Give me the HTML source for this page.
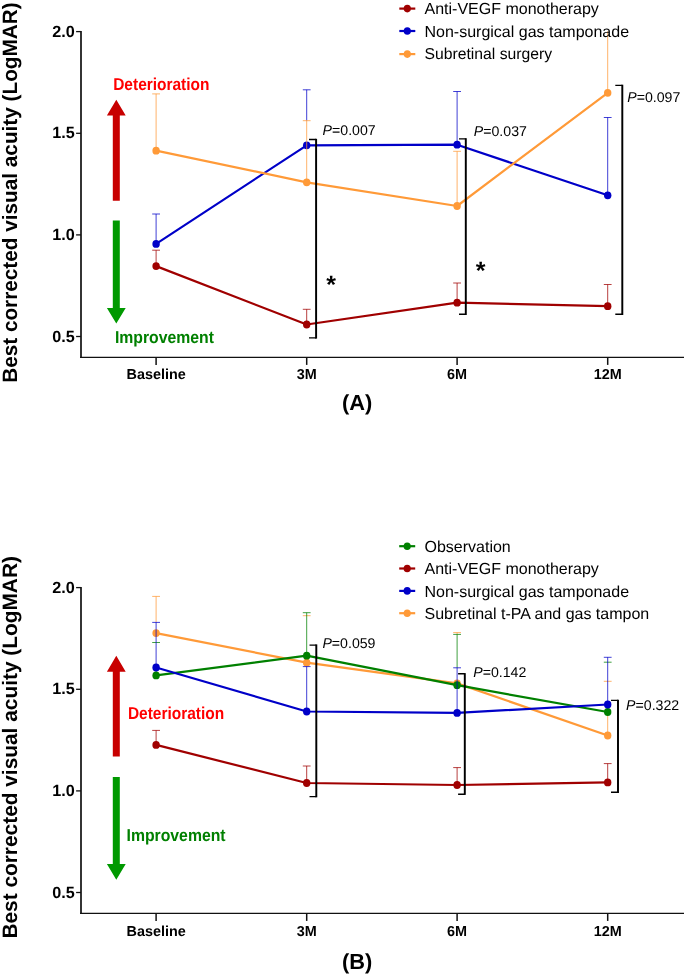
<!DOCTYPE html>
<html><head><meta charset="utf-8"><title>Figure</title>
<style>html,body{margin:0;padding:0;background:#fff}svg{display:block;will-change:transform}text{font-family:"Liberation Sans",sans-serif;fill:#000;text-rendering:geometricPrecision}</style>
</head><body>
<svg width="685" height="975" viewBox="0 0 685 975">
<rect width="685" height="975" fill="#fff"/>
<text transform="translate(16.5 192.6) rotate(-90)" text-anchor="middle" font-size="20.75" font-weight="bold">Best corrected visual acuity (LogMAR)</text>
<path d="M81 31.0V357.95" stroke="#111" stroke-width="1.7"/>
<path d="M80.15 357.3H684" stroke="#111" stroke-width="1.35"/>
<path d="M76.1 31.6H81" stroke="#111" stroke-width="1.3"/>
<path d="M76.1 133.3H81" stroke="#111" stroke-width="1.3"/>
<path d="M76.1 234.9H81" stroke="#111" stroke-width="1.3"/>
<path d="M76.1 336.5H81" stroke="#111" stroke-width="1.3"/>
<path d="M156.1 357.3V364.9" stroke="#111" stroke-width="1.5"/>
<path d="M306.7 357.3V364.9" stroke="#111" stroke-width="1.5"/>
<path d="M457.1 357.3V364.9" stroke="#111" stroke-width="1.5"/>
<path d="M607.7 357.3V364.9" stroke="#111" stroke-width="1.5"/>
<text x="74.8" y="36.8" text-anchor="end" font-size="16.2" font-weight="bold">2.0</text>
<text x="74.8" y="138.4" text-anchor="end" font-size="16.2" font-weight="bold">1.5</text>
<text x="74.8" y="240.0" text-anchor="end" font-size="16.2" font-weight="bold">1.0</text>
<text x="74.8" y="341.6" text-anchor="end" font-size="16.2" font-weight="bold">0.5</text>
<text x="156.1" y="379.4" text-anchor="middle" font-size="14.4" font-weight="bold">Baseline</text>
<text x="306.7" y="379.4" text-anchor="middle" font-size="14.4" font-weight="bold">3M</text>
<text x="457.1" y="379.4" text-anchor="middle" font-size="14.4" font-weight="bold">6M</text>
<text x="607.7" y="379.4" text-anchor="middle" font-size="14.4" font-weight="bold">12M</text>
<path d="M116.3 99.7L125.7 115.6H119.8V200.8H112.8V115.6H106.89999999999999Z" fill="#c80000"/>
<path d="M116.3 323.4L125.7 308H119.8V220.4H112.8V308H106.89999999999999Z" fill="#009900"/>
<text transform="translate(113.2 89.9) scale(0.90 1)" font-size="17.2" font-weight="bold" style="fill:#ff0000">Deterioration</text>
<text transform="translate(114.9 343.1) scale(0.918 1)" font-size="17.2" font-weight="bold" style="fill:#008000">Improvement</text>
<clipPath id="ca"><rect x="82" y="31.2" width="603" height="325"/></clipPath>
<g clip-path="url(#ca)">
<path d="M156.1 250.2V266.1M152.2 250.2H160.0" fill="none" stroke="#a00000" stroke-width="0.75"/>
<path d="M306.7 309.3V324.5M302.8 309.3H310.59999999999997" fill="none" stroke="#a00000" stroke-width="0.75"/>
<path d="M457.1 283.0V302.7M453.20000000000005 283H461.0" fill="none" stroke="#a00000" stroke-width="0.75"/>
<path d="M607.7 284.5V306.2M603.8000000000001 284.5H611.6" fill="none" stroke="#a00000" stroke-width="0.75"/>
<path d="M156.1 266.1L306.7 324.5L457.1 302.7L607.7 306.2" fill="none" stroke="#a00000" stroke-width="2.2" stroke-linejoin="round"/>
<ellipse cx="156.1" cy="266.1" rx="3.7" ry="3.9" fill="#a00000"/>
<ellipse cx="306.7" cy="324.5" rx="3.7" ry="3.9" fill="#a00000"/>
<ellipse cx="457.1" cy="302.7" rx="3.7" ry="3.9" fill="#a00000"/>
<ellipse cx="607.7" cy="306.2" rx="3.7" ry="3.9" fill="#a00000"/>
<path d="M156.1 214.0V243.9M152.2 214H160.0" fill="none" stroke="#0000c8" stroke-width="0.75"/>
<path d="M306.7 89.8V120.7M302.8 89.8H310.59999999999997" fill="none" stroke="#0000c8" stroke-width="0.75"/>
<path d="M457.1 91.5V144.7M453.20000000000005 91.5H461.0" fill="none" stroke="#0000c8" stroke-width="0.75"/>
<path d="M607.7 117.5V195.3M603.8000000000001 117.5H611.6" fill="none" stroke="#0000c8" stroke-width="0.75"/>
<path d="M156.1 243.9L306.7 145.3L457.1 144.7L607.7 195.3" fill="none" stroke="#0000c8" stroke-width="2.2" stroke-linejoin="round"/>
<ellipse cx="156.1" cy="243.9" rx="3.7" ry="3.9" fill="#0000c8"/>
<ellipse cx="306.7" cy="145.3" rx="3.7" ry="3.9" fill="#0000c8"/>
<ellipse cx="457.1" cy="144.7" rx="3.7" ry="3.9" fill="#0000c8"/>
<ellipse cx="607.7" cy="195.3" rx="3.7" ry="3.9" fill="#0000c8"/>
<path d="M156.1 93.9V150.7M152.2 93.9H160.0" fill="none" stroke="#ff9a38" stroke-width="0.75"/>
<path d="M306.7 120.7V182.3M302.8 120.7H310.59999999999997" fill="none" stroke="#ff9a38" stroke-width="0.75"/>
<path d="M457.1 151.3V206.0M453.20000000000005 151.3H461.0" fill="none" stroke="#ff9a38" stroke-width="0.75"/>
<path d="M607.7 20.0V92.8M603.8000000000001 20H611.6" fill="none" stroke="#ff9a38" stroke-width="0.75"/>
<path d="M156.1 150.7L306.7 182.3L457.1 206L607.7 92.8" fill="none" stroke="#ff9a38" stroke-width="2.2" stroke-linejoin="round"/>
<ellipse cx="156.1" cy="150.7" rx="3.7" ry="3.9" fill="#ff9a38"/>
<ellipse cx="306.7" cy="182.3" rx="3.7" ry="3.9" fill="#ff9a38"/>
<ellipse cx="457.1" cy="206" rx="3.7" ry="3.9" fill="#ff9a38"/>
<ellipse cx="607.7" cy="92.8" rx="3.7" ry="3.9" fill="#ff9a38"/>
</g>
<path d="M316.1 138.8V338.59999999999997" stroke="#000" stroke-width="1.95"/>
<path d="M309 139.5H316.1M309 337.9H316.1" stroke="#000" stroke-width="1.4"/>
<path d="M465.8 138.20000000000002V315.0" stroke="#000" stroke-width="1.95"/>
<path d="M459 138.9H465.8M459 314.3H465.8" stroke="#000" stroke-width="1.4"/>
<path d="M622.3 84.7V315.0" stroke="#000" stroke-width="1.95"/>
<path d="M615.3 85.4H622.3M615.3 314.3H622.3" stroke="#000" stroke-width="1.4"/>
<text x="322.6" y="134.9" font-size="14.15"><tspan font-style="italic">P</tspan>=0.007</text>
<text x="473.8" y="135.9" font-size="14.15"><tspan font-style="italic">P</tspan>=0.037</text>
<text x="627.2" y="102.4" font-size="14.15"><tspan font-style="italic">P</tspan>=0.097</text>
<text x="331.2" y="292.6" text-anchor="middle" font-size="25" font-weight="bold">*</text>
<text x="480.7" y="278.7" text-anchor="middle" font-size="25" font-weight="bold">*</text>
<path d="M399.3 8.6H415.3" stroke="#a00000" stroke-width="2.2"/>
<ellipse cx="407.3" cy="8.6" rx="3.6" ry="3.8" fill="#a00000"/>
<text x="424.5" y="14.2" font-size="16">Anti-VEGF monotherapy</text>
<path d="M399.3 31.0H415.3" stroke="#0000c8" stroke-width="2.2"/>
<ellipse cx="407.3" cy="31.0" rx="3.6" ry="3.8" fill="#0000c8"/>
<text x="424.5" y="36.6" font-size="16">Non-surgical gas tamponade</text>
<path d="M399.3 54.1H415.3" stroke="#ff9a38" stroke-width="2.2"/>
<ellipse cx="407.3" cy="54.1" rx="3.6" ry="3.8" fill="#ff9a38"/>
<text x="424.5" y="59.1" font-size="15.72">Subretinal surgery</text>
<text x="357.2" y="409.6" text-anchor="middle" font-size="21.8" font-weight="bold">(A)</text>
<text transform="translate(16.5 747.35) rotate(-90)" text-anchor="middle" font-size="20.86" font-weight="bold">Best corrected visual acuity (LogMAR)</text>
<path d="M81 587.0V913.95" stroke="#111" stroke-width="1.7"/>
<path d="M80.15 913.3H684" stroke="#111" stroke-width="1.35"/>
<path d="M76.1 587.6H81" stroke="#111" stroke-width="1.3"/>
<path d="M76.1 689.3H81" stroke="#111" stroke-width="1.3"/>
<path d="M76.1 790.9H81" stroke="#111" stroke-width="1.3"/>
<path d="M76.1 892.5H81" stroke="#111" stroke-width="1.3"/>
<path d="M156.1 913.3V920.9" stroke="#111" stroke-width="1.5"/>
<path d="M306.7 913.3V920.9" stroke="#111" stroke-width="1.5"/>
<path d="M457.1 913.3V920.9" stroke="#111" stroke-width="1.5"/>
<path d="M607.7 913.3V920.9" stroke="#111" stroke-width="1.5"/>
<text x="74.8" y="592.8000000000001" text-anchor="end" font-size="16.2" font-weight="bold">2.0</text>
<text x="74.8" y="694.4" text-anchor="end" font-size="16.2" font-weight="bold">1.5</text>
<text x="74.8" y="796.0" text-anchor="end" font-size="16.2" font-weight="bold">1.0</text>
<text x="74.8" y="897.6" text-anchor="end" font-size="16.2" font-weight="bold">0.5</text>
<text x="156.1" y="936.0" text-anchor="middle" font-size="14.4" font-weight="bold">Baseline</text>
<text x="306.7" y="936.0" text-anchor="middle" font-size="14.4" font-weight="bold">3M</text>
<text x="457.1" y="936.0" text-anchor="middle" font-size="14.4" font-weight="bold">6M</text>
<text x="607.7" y="936.0" text-anchor="middle" font-size="14.4" font-weight="bold">12M</text>
<path d="M116.3 655.8L125.7 671.7H119.8V756.5H112.8V671.7H106.89999999999999Z" fill="#c80000"/>
<path d="M116.3 879.7L125.7 864.1H119.8V777.1H112.8V864.1H106.89999999999999Z" fill="#009900"/>
<text transform="translate(127.9 719.2) scale(0.90 1)" font-size="17.2" font-weight="bold" style="fill:#ff0000">Deterioration</text>
<text transform="translate(126.5 840.9) scale(0.918 1)" font-size="17.2" font-weight="bold" style="fill:#008000">Improvement</text>
<path d="M156.1 596.4V622.4M152.2 596.4H160.0" fill="none" stroke="#ff9a38" stroke-width="0.75"/>
<path d="M306.7 655.7V662.7M302.8 615.7H310.59999999999997" fill="none" stroke="#ff9a38" stroke-width="0.75"/>
<path d="M457.1 632.6V634.4M453.20000000000005 632.6H461.0" fill="none" stroke="#ff9a38" stroke-width="0.75"/>
<path d="M607.7 712.0V735.5M603.8000000000001 681.3H611.6" fill="none" stroke="#ff9a38" stroke-width="0.75"/>
<path d="M156.1 633.1L306.7 662.7L457.1 683.4L607.7 735.5" fill="none" stroke="#ff9a38" stroke-width="2.2" stroke-linejoin="round"/>
<ellipse cx="156.1" cy="633.1" rx="3.7" ry="3.9" fill="#ff9a38"/>
<ellipse cx="306.7" cy="662.7" rx="3.7" ry="3.9" fill="#ff9a38"/>
<ellipse cx="457.1" cy="683.4" rx="3.7" ry="3.9" fill="#ff9a38"/>
<ellipse cx="607.7" cy="735.5" rx="3.7" ry="3.9" fill="#ff9a38"/>
<path d="M156.1 730.4V744.9M152.2 730.4H160.0" fill="none" stroke="#a00000" stroke-width="0.75"/>
<path d="M306.7 766.0V783.0M302.8 766H310.59999999999997" fill="none" stroke="#a00000" stroke-width="0.75"/>
<path d="M457.1 767.6V785.0M453.20000000000005 767.6H461.0" fill="none" stroke="#a00000" stroke-width="0.75"/>
<path d="M607.7 763.6V782.4M603.8000000000001 763.6H611.6" fill="none" stroke="#a00000" stroke-width="0.75"/>
<path d="M156.1 744.9L306.7 783L457.1 785L607.7 782.4" fill="none" stroke="#a00000" stroke-width="2.2" stroke-linejoin="round"/>
<ellipse cx="156.1" cy="744.9" rx="3.7" ry="3.9" fill="#a00000"/>
<ellipse cx="306.7" cy="783" rx="3.7" ry="3.9" fill="#a00000"/>
<ellipse cx="457.1" cy="785" rx="3.7" ry="3.9" fill="#a00000"/>
<ellipse cx="607.7" cy="782.4" rx="3.7" ry="3.9" fill="#a00000"/>
<path d="M156.1 667.5V675.4M152.2 642.5H160.0" fill="none" stroke="#008000" stroke-width="0.75"/>
<path d="M306.7 612.7V655.7M302.8 612.7H310.59999999999997" fill="none" stroke="#008000" stroke-width="0.75"/>
<path d="M457.1 634.4V667.8M453.20000000000005 634.4H461.0" fill="none" stroke="#008000" stroke-width="0.75"/>
<path d="M607.7 704.5V712.0M603.8000000000001 662.2H611.6" fill="none" stroke="#008000" stroke-width="0.75"/>
<path d="M156.1 675.4L306.7 655.7L457.1 685.2L607.7 712" fill="none" stroke="#008000" stroke-width="2.2" stroke-linejoin="round"/>
<ellipse cx="156.1" cy="675.4" rx="3.7" ry="3.9" fill="#008000"/>
<ellipse cx="306.7" cy="655.7" rx="3.7" ry="3.9" fill="#008000"/>
<ellipse cx="457.1" cy="685.2" rx="3.7" ry="3.9" fill="#008000"/>
<ellipse cx="607.7" cy="712" rx="3.7" ry="3.9" fill="#008000"/>
<path d="M156.1 622.4V667.5M152.2 622.4H160.0" fill="none" stroke="#0000c8" stroke-width="0.75"/>
<path d="M306.7 666.6V711.5M302.8 666.6H310.59999999999997" fill="none" stroke="#0000c8" stroke-width="0.75"/>
<path d="M457.1 667.8V712.9M453.20000000000005 667.8H461.0" fill="none" stroke="#0000c8" stroke-width="0.75"/>
<path d="M607.7 657.3V704.5M603.8000000000001 657.3H611.6" fill="none" stroke="#0000c8" stroke-width="0.75"/>
<path d="M156.1 667.5L306.7 711.5L457.1 712.9L607.7 704.5" fill="none" stroke="#0000c8" stroke-width="2.2" stroke-linejoin="round"/>
<ellipse cx="156.1" cy="667.5" rx="3.7" ry="3.9" fill="#0000c8"/>
<ellipse cx="306.7" cy="711.5" rx="3.7" ry="3.9" fill="#0000c8"/>
<ellipse cx="457.1" cy="712.9" rx="3.7" ry="3.9" fill="#0000c8"/>
<ellipse cx="607.7" cy="704.5" rx="3.7" ry="3.9" fill="#0000c8"/>
<path d="M316.3 644.4V797.3000000000001" stroke="#000" stroke-width="1.95"/>
<path d="M309.5 645.1H316.3M309.5 796.6H316.3" stroke="#000" stroke-width="1.4"/>
<path d="M464.8 673.0999999999999V794.9000000000001" stroke="#000" stroke-width="1.95"/>
<path d="M458.1 673.8H464.8M458.1 794.2H464.8" stroke="#000" stroke-width="1.4"/>
<path d="M618 699.6999999999999V792.9000000000001" stroke="#000" stroke-width="1.95"/>
<path d="M611 700.4H618M611 792.2H618" stroke="#000" stroke-width="1.4"/>
<text x="322.4" y="647.7" font-size="14.15"><tspan font-style="italic">P</tspan>=0.059</text>
<text x="473.2" y="676.9" font-size="14.15"><tspan font-style="italic">P</tspan>=0.142</text>
<text x="626.1" y="710.1" font-size="14.15"><tspan font-style="italic">P</tspan>=0.322</text>
<path d="M399.2 546.2H415.2" stroke="#008000" stroke-width="2.2"/>
<ellipse cx="407.2" cy="546.2" rx="3.6" ry="3.8" fill="#008000"/>
<text x="424.5" y="551.8" font-size="16">Observation</text>
<path d="M399.2 568.5H415.2" stroke="#a00000" stroke-width="2.2"/>
<ellipse cx="407.2" cy="568.5" rx="3.6" ry="3.8" fill="#a00000"/>
<text x="424.5" y="574.1" font-size="16">Anti-VEGF monotherapy</text>
<path d="M399.2 590.9H415.2" stroke="#0000c8" stroke-width="2.2"/>
<ellipse cx="407.2" cy="590.9" rx="3.6" ry="3.8" fill="#0000c8"/>
<text x="424.5" y="596.5" font-size="16">Non-surgical gas tamponade</text>
<path d="M399.2 613.2H415.2" stroke="#ff9a38" stroke-width="2.2"/>
<ellipse cx="407.2" cy="613.2" rx="3.6" ry="3.8" fill="#ff9a38"/>
<text x="424.5" y="618.8" font-size="16">Subretinal t-PA and gas tampon</text>
<text x="357.2" y="968.5" text-anchor="middle" font-size="21.8" font-weight="bold">(B)</text>
</svg></body></html>
